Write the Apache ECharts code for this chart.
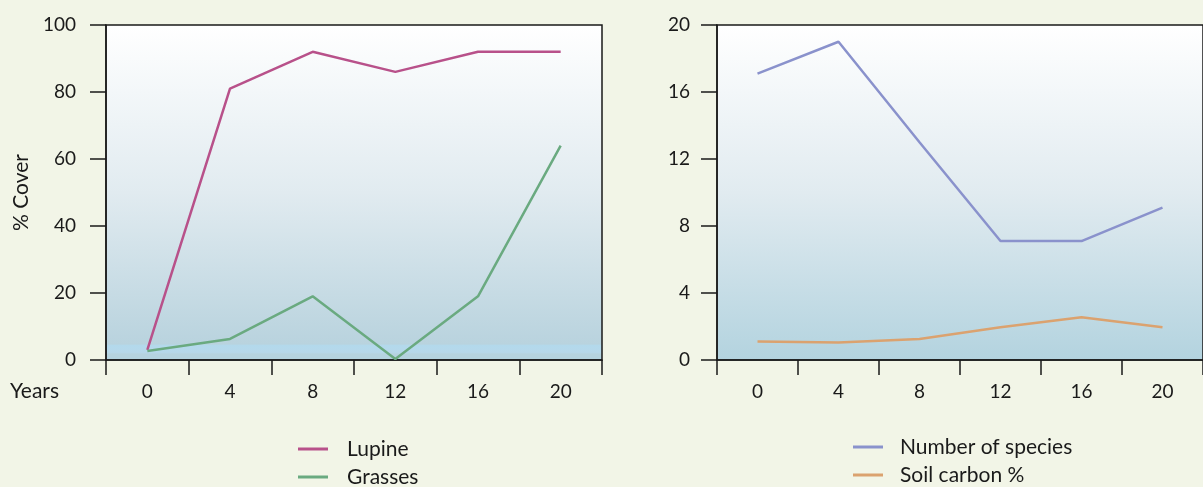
<!DOCTYPE html>
<html>
<head>
<meta charset="utf-8">
<script src="https://cdn.jsdelivr.net/npm/echarts@6/dist/echarts.min.js"></script>
<style>
  html, body { margin: 0; padding: 0; background: #f2f5e7; }
  #chart { width: 1203px; height: 487px; }
</style>
</head>
<body>
<div id="chart"></div>
<script>
// categories (years)
var years = ['0', '4', '8', '12', '16', '20']

// left panel: % cover
var lupine = [3, 81, 92, 86, 92, 92]
var grasses = [2.7, 6.3, 19, 0.3, 19, 64]

// right panel
var species = [17.1, 19, 13, 7.1, 7.1, 9.1]
var soilCarbon = [1.1, 1.05, 1.25, 1.95, 2.55, 1.95]

var font = 'Lato'
var ink = '#1a1a1a'

function plotBg(band) {
  var stops = [
    {offset: 0, color: '#ffffff'},
    {offset: 0.5, color: '#e1ebf0'},
    {offset: 1, color: '#b3d3df'}
  ]
  if (band) {
    stops = [
      {offset: 0, color: '#ffffff'},
      {offset: 0.5, color: '#e1ebf0'},
      {offset: 0.95, color: '#b9d3de'},
      {offset: 0.955, color: '#b3d9ec'},
      {offset: 0.975, color: '#b6d8ea'},
      {offset: 0.98, color: '#b6d3df'},
      {offset: 1, color: '#b3d3df'}
    ]
  }
  return new echarts.graphic.LinearGradient(0, 0, 0, 1, stops)
}

function xAx(gi) {
  return {
    type: 'category',
    gridIndex: gi,
    data: years,
    boundaryGap: true,
    axisLine: {lineStyle: {color: ink, width: 1.5}},
    axisTick: {show: true, length: 15, lineStyle: {color: ink, width: 1.5}},
    axisLabel: {color: ink, fontFamily: font, fontSize: 19, margin: 22},
    splitLine: {show: false}
  }
}

function yAx(gi, max, step, margin) {
  return {
    type: 'value',
    gridIndex: gi,
    min: 0,
    max: max,
    interval: step,
    axisLine: {show: true, lineStyle: {color: ink, width: 1.5}},
    axisTick: {show: true, length: 16, lineStyle: {color: ink, width: 1.5}},
    axisLabel: {color: ink, fontFamily: font, fontSize: 19, margin: margin},
    splitLine: {show: false}
  }
}

// one legend box per entry so each sits where the reference has it
function leg(name, x, yMid, pad) {
  return {
    left: x, top: yMid - 12, orient: 'vertical',
    icon: 'rect', itemWidth: 30, itemHeight: 3,
    data: [name],
    textStyle: {color: ink, fontFamily: font, fontSize: 21, lineHeight: 24, padding: [0, 0, 0, pad]}
  }
}

var chart = echarts.init(document.getElementById('chart'))

var leftY = yAx(0, 100, 20, 30)
leftY.name = '% Cover'
leftY.nameLocation = 'middle'
leftY.nameRotate = 90
leftY.nameGap = 74
leftY.nameTextStyle = {color: ink, fontFamily: font, fontSize: 21}

chart.setOption({
  backgroundColor: '#f2f5e7',
  animation: false,
  grid: [
    {left: 106, top: 25, width: 496, height: 335, show: true,
      backgroundColor: plotBg(true), borderColor: ink, borderWidth: 1.5},
    {left: 717, top: 25, width: 498, height: 335, show: true,
      backgroundColor: plotBg(false), borderColor: ink, borderWidth: 1.5}
  ],
  xAxis: [xAx(0), xAx(1)],
  yAxis: [leftY, yAx(1, 20, 4, 27)],
  legend: [
    leg('Lupine', 293, 444, 14),
    leg('Grasses', 293, 472, 14),
    leg('Number of species', 848, 442, 12),
    leg('Soil carbon %', 848, 470, 12)
  ],
  graphic: [
    {type: 'text', left: 10, top: 381,
      style: {text: 'Years', fill: ink, font: '21px ' + font}}
  ],
  series: [
    {name: 'Lupine', type: 'line', xAxisIndex: 0, yAxisIndex: 0, data: lupine,
      symbol: 'none', lineStyle: {color: '#b8518a', width: 2.5}, itemStyle: {color: '#b8518a'}},
    {name: 'Grasses', type: 'line', xAxisIndex: 0, yAxisIndex: 0, data: grasses,
      symbol: 'none', lineStyle: {color: '#6aaa80', width: 2.5}, itemStyle: {color: '#6aaa80'}},
    {name: 'Number of species', type: 'line', xAxisIndex: 1, yAxisIndex: 1, data: species,
      symbol: 'none', lineStyle: {color: '#8a92cc', width: 2.5}, itemStyle: {color: '#8a92cc'}},
    {name: 'Soil carbon %', type: 'line', xAxisIndex: 1, yAxisIndex: 1, data: soilCarbon,
      symbol: 'none', lineStyle: {color: '#dba26f', width: 2.5}, itemStyle: {color: '#dba26f'}}
  ]
})
</script>
</body>
</html>
